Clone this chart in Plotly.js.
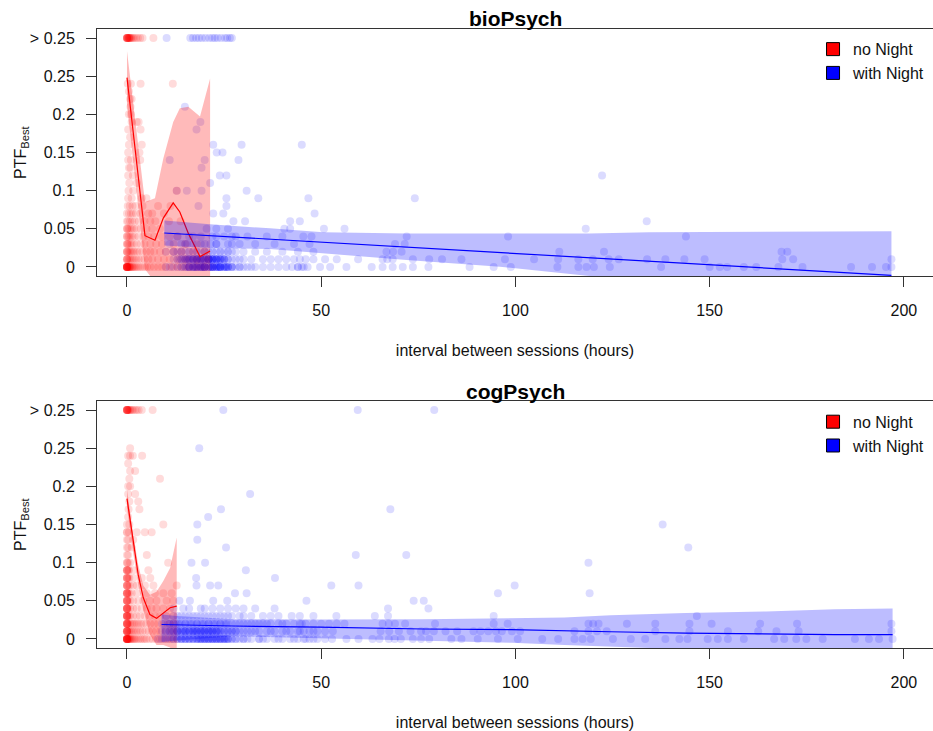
<!DOCTYPE html>
<html><head><meta charset="utf-8">
<script src="https://cdn.plot.ly/plotly-3.0.1.min.js"></script>
<style>html,body{margin:0;padding:0;background:#fff;} #chart{width:933px;height:731px;}</style>
</head><body><div id="chart"></div>
<script>
// ---------------- DATA ----------------
const xTickVals = [0, 50, 100, 150, 200];
const yTickVals = [0, 0.05, 0.1, 0.15, 0.2, 0.25, 0.3];
const yTickText = ['0', '0.05', '0.1', '0.15', '0.2', '0.25', '> 0.25'];
const panelTitles = ['bioPsych', 'cogPsych'];
const seriesNames = ['no Night', 'with Night'];
const xTitle = 'interval between sessions (hours)';
const yTitle = 'PTF<sub>Best</sub>';

// bioPsych, no Night: PTF levels and the interval values (hours) observed at each level
const bioNoNightLevels = [0.30, 0.24, 0.23, 0.22, 0.21, 0.20, 0.19, 0.18, 0.17, 0.16, 0.15, 0.14, 0.13, 0.12, 0.11, 0.10, 0.09, 0.08, 0.07, 0.06, 0.05, 0.04, 0.03, 0.02, 0.01, 0.00];
const bioNoNightHours = [
  [0, 0, 0, 0, 0, 0.1, 0.2, 0.3, 0.4, 0.5, 0.6, 0.7, 0.8, 1.0, 1.2, 1.5, 1.8, 2.3, 2.8, 3.4, 4.0, 6.8],
  [0.2, 1.0, 3.5, 11.8],
  [0.5],
  [0.8, 1.2],
  [0.9],
  [0.5, 1.0],
  [1.2, 2.5, 3.0],
  [0.3, 3.5],
  [0.8],
  [0.5, 3.8],
  [0.3, 3.2],
  [0.3, 1.0, 3.4],
  [0.5, 0.9],
  [0.3, 1.5],
  [0.6, 2.5],
  [0.4, 1.6, 12.8],
  [0.3, 1.2, 3.8, 5.0],
  [0.2, 0.7, 1.4, 2.2, 4.0, 8.0, 11.2],
  [0, 0.5, 1, 1.5, 2.3, 3.5, 5.5, 6.5, 9.5],
  [0, 0.3, 0.8, 1.3, 2, 3, 4.5, 6, 7.3, 10.8, 13.8],
  [0, 0, 0.2, 0.5, 0.9, 1.3, 1.8, 2.5, 3.5, 5, 6.5, 8.5],
  [0, 0, 0.3, 0.6, 1, 1.4, 2, 3, 4.2, 5.5, 7, 9, 11, 13],
  [0, 0, 0.2, 0.4, 0.8, 1.2, 1.7, 2.5, 3.5, 4.5, 6, 7.5, 9, 12, 15, 18],
  [0, 0, 0, 0.3, 0.6, 0.9, 1.2, 1.6, 2, 2.6, 3.2, 4, 5, 6, 7, 8.5, 10, 12, 14, 17, 20],
  [0, 0, 0, 0.2, 0.5, 0.8, 1.1, 1.5, 1.9, 2.4, 3, 3.7, 4.5, 5.5, 6.5, 8, 9.5, 11, 13, 15, 18, 21],
  [0, 0, 0, 0, 0, 0, 0, 0, 0, 0, 0.1, 0.2, 0.3, 0.4, 0.5, 0.6, 0.7, 0.8, 1.0, 1.2, 1.4, 1.6, 1.9, 2.2, 2.6, 3.0, 3.5, 4.0, 4.6, 5.2, 6, 7, 8, 9, 10, 11.5, 13, 14.5, 16, 18, 20, 22]
];

// bioPsych, with Night
const bioWithNightLevels = [0.30, 0.21, 0.19, 0.18, 0.16, 0.15, 0.14, 0.13, 0.12, 0.11, 0.10, 0.09, 0.08, 0.07, 0.06, 0.05, 0.04, 0.03, 0.02, 0.01, 0.00];
const bioWithNightHours = [
  [10.2, 16.3, 17, 17.8, 18.5, 19.3, 20.2, 21.2, 22, 22.6, 23.3, 24.2, 25.2, 25.8, 26.5, 27],
  [14.9],
  [18.9],
  [17.9],
  [22.2, 29.5, 45.0],
  [23.1, 24.6],
  [11.0, 20.0, 28.7],
  [19.2],
  [23.9, 25.6, 122.3],
  [21.4],
  [12.8, 15.4, 19.2, 30.8],
  [25.6, 33.8, 46.7, 74.1],
  [18.4, 25.6],
  [22.2, 24.8, 48.3],
  [27.4, 30.4, 42, 44.5, 133.8],
  [20.5, 23, 26, 40.5, 42, 50.7, 56, 118.1],
  [13, 16, 19, 22, 25, 28, 31, 36, 40, 45.4, 47.5, 72, 98.1, 143.9, 17, 23, 27],
  [11, 14, 17, 20, 23, 26, 29, 33, 38, 43, 47, 69, 71.5, 15.5, 21.5, 15, 19, 23, 27],
  [10, 12, 14, 16, 18, 20, 22, 24, 26, 28, 30, 33, 36, 40, 44, 48, 66.8, 68.5, 70.7, 111.3, 122.8, 168.5, 170, 13, 15, 17, 19, 21, 23, 25, 27,
   12, 14, 16, 18, 20, 22, 24, 26],
  [12, 13.5, 15, 16, 17, 18, 19, 20, 21, 22, 23, 24, 25, 26, 14, 16.5, 18.5, 20.5, 22.5, 24.5, 17, 19, 21, 23, 28, 30, 32, 35, 37, 39, 41, 43, 44.5, 46, 48, 51, 54, 59.5, 65.8, 67, 68.4, 73.6, 77.8, 81.1, 86.1, 97.3, 104.8, 111, 116.2, 119.9, 124, 126.6, 133.9, 138.6, 143.5, 148.7, 168.7, 171.5, 196.8,
   13, 14.5, 15.5, 16, 17, 18, 18, 19, 19.5, 20, 21, 21, 22, 22, 23, 24, 25, 26, 27, 29,
   14, 15, 16, 17, 18, 19, 20, 21, 22, 23, 24, 25, 15.5, 17.5, 19.5, 21.5, 23.5],
  [10, 11, 12, 13, 14, 15, 15.5, 16, 17, 18, 19, 19.5, 20, 21, 22, 23, 23.5, 24, 25, 26, 27, 16, 17.5, 18.5, 20, 21.5, 22.5, 24, 25.5, 29, 31, 33, 35, 37, 39, 41, 42.5, 44, 45, 46.5, 49.7, 52.3, 56.5, 63, 65.8, 68.4, 71, 73.6, 77.6, 88.2, 94.4, 98.8, 110.8, 116.2, 118.3, 120.2, 124.3, 137.5, 150, 152.6, 154.5, 158.8, 162, 167.7, 173.9, 186.4, 191.8, 195.4, 196.8,
   14, 15, 16, 17, 17, 18, 19, 19, 20, 20, 21, 22, 22, 23, 24, 24, 25, 26, 27, 28, 30, 32, 44, 45.5,
   16, 17, 18, 19, 20, 21, 22, 23, 24, 25, 26, 17.5, 19.5, 21.5, 23.5, 25.5, 27, 29]
];

// cogPsych, no Night
const cogNoNightLevels = [0.30, 0.25, 0.24, 0.23, 0.22, 0.21, 0.20, 0.19, 0.18, 0.17, 0.16, 0.15, 0.14, 0.13, 0.12, 0.11, 0.10, 0.09, 0.08, 0.07, 0.06, 0.05, 0.04, 0.03, 0.02, 0.01, 0.00];
const cogNoNightHours = [
  [0, 0, 0, 0, 0, 0, 0.1, 0.2, 0.3, 0.5, 0.7, 0.9, 1.2, 1.5, 2, 2.5, 3, 3.8, 6.6],
  [0.8],
  [0.3, 0.8, 1.5, 3.9],
  [0.3],
  [0.8, 2.1],
  [0.6, 8.5],
  [0.3, 0.8],
  [0.3, 2.1],
  [0.6, 2.9],
  [0.4, 3.2],
  [0.3],
  [0, 0.6, 9.35],
  [0, 0, 0.5, 2.5, 4.6, 6.35],
  [0, 0.3, 1.6],
  [0, 0.3, 1.2],
  [0, 0.3, 5.1],
  [0, 0, 0.3, 0.8, 10.6],
  [0, 0, 0, 0, 0.3, 0.5, 1.6, 5.5],
  [0, 0, 0, 0, 0.3, 0.6, 1.6, 3.8, 6],
  [0, 0, 0, 0, 0.3, 0.7, 1.6, 2.5, 4.6, 6.8, 12.8],
  [0, 0, 0, 0, 0, 0.3, 0.6, 1.2, 2.5, 5.1, 7.2, 9.35, 11.5],
  [0, 0, 0, 0, 0, 0.3, 0.8, 1.6, 2.9, 4.2, 5.9, 7.6, 10.2, 11.9],
  [0, 0, 0, 0, 0, 0, 0.3, 0.8, 1.6, 2.5, 3.8, 5.1, 6.3, 7.6, 9.35, 11.1],
  [0, 0, 0, 0, 0, 0, 0.2, 0.5, 0.8, 1.6, 2.5, 3.4, 4.6, 5.9, 7.2, 8.5, 10.2, 11.9],
  [0, 0, 0, 0, 0, 0, 0.2, 0.4, 0.8, 1.2, 1.6, 2, 2.5, 3, 3.6, 4.2, 5, 6, 7, 8, 9.5, 11, 12.5],
  [0, 0, 0, 0, 0, 0, 0.2, 0.4, 0.7, 1, 1.4, 1.8, 2.3, 2.8, 3.4, 4, 4.8, 5.6, 6.5, 7.5, 8.5, 10, 11.5, 12.8],
  [0, 0, 0, 0, 0, 0, 0, 0, 0, 0, 0.1, 0.2, 0.3, 0.4, 0.5, 0.6, 0.8, 1.0, 1.2, 1.5, 1.8, 2.1, 2.5, 3, 3.5, 4, 4.5, 5, 5.8, 6.6, 7.5, 8.5, 9.5, 10.5, 11.5, 12.8]
];

// cogPsych, with Night
const cogWithNightLevels = [0.30, 0.25, 0.19, 0.17, 0.16, 0.15, 0.13, 0.12, 0.11, 0.10, 0.09, 0.08, 0.07, 0.06, 0.05, 0.04, 0.03, 0.02, 0.01, 0.00];
const cogWithNightHours = [
  [24.8, 59.4, 79.1],
  [18.6],
  [31.7],
  [24.2, 67.8],
  [20.9],
  [18.1, 137.9],
  [18.1],
  [25.5, 144.5],
  [58.9, 71.9],
  [16.6, 20.1, 118.8],
  [30.6],
  [17.8, 38.1],
  [17.9, 21.4, 23.5, 52.6, 59.6, 99.8],
  [27.8, 30.8, 95.5, 119.1],
  [13.5, 16.2, 22.2, 25.8, 46.2, 73.8, 76.4],
  [12, 14.5, 16, 19, 20, 22, 24, 26, 28, 30, 33, 38, 67.2, 77.6],
  [10, 12, 13, 15, 17, 18, 20, 21, 23, 25, 26, 29, 30, 32, 35, 37, 39, 42.4, 44.5, 48, 53.9, 63.8, 67.2, 94.4, 146.7,
   14, 16, 19, 22, 24, 27],
  [9, 10.5, 12, 13.5, 15, 16.5, 18, 19.5, 21, 22.5, 24, 25.5, 27, 29, 31, 33, 35, 37, 39, 41, 43, 44.5, 46, 48, 50, 52, 54, 56, 65.8, 67.4, 69, 71.6, 79.3, 94.4, 98, 118.8, 120, 121.4, 128.7, 136, 144.8, 150.5, 163, 172.5, 196.8,
   12, 14, 16, 18, 20, 22, 24, 26, 28, 32, 36, 40, 45,
   11, 13, 15, 17, 19, 21, 23, 25, 30, 34],
  [9, 10, 11, 12, 13, 14, 15, 16, 17, 18, 19, 20, 21, 22, 23, 24, 25, 26, 27, 28, 14.5, 17.5, 19.5, 21.5, 23.5, 30, 32, 34, 36, 38, 40, 42, 44, 45.5, 47, 49, 51, 53, 65.3, 67.5, 70, 73, 75.7, 77, 79, 82, 85, 89.2, 91, 93, 95, 96.5, 99.1, 101.2, 115.2, 118.8, 121, 123.5, 136, 144.8, 154.7, 162.5, 167.2, 172.9, 196.8,
   11, 13, 15, 16, 17, 18, 19, 20, 21, 22, 23, 25, 27, 29, 33, 37, 41, 44.5, 48,
   12, 14, 16, 18, 20, 22, 24, 26, 13, 15, 17, 19, 21, 23, 28, 31],
  [8, 9, 10, 11, 12, 13, 14, 15, 16, 17, 18, 19, 20, 21, 22, 23, 24, 25, 26, 27, 28, 29, 30, 18.5, 19.5, 20.5, 21.5, 22.5, 23.5, 24.5, 25.5, 32, 34, 36, 38, 40, 42, 44, 45.5, 47, 49, 51, 52.8, 56.5, 59.6, 63.2, 65, 67.4, 68.9, 70.5, 73.6, 75.7, 77.8, 83.5, 86.1, 90.3, 95.5, 100.6, 106.9, 111, 115.2, 117.3, 119.4, 125.1, 129.7, 133.4, 138.6, 142.2, 144.3, 149.5, 152.1, 154.7, 158.8, 166.6, 169.2, 172.3, 174.9, 179.1, 187.4, 191, 193.6, 197.1,
   12, 14, 15, 16, 17, 18, 19, 20, 21, 22, 23, 24, 25, 26, 27, 28, 31, 35, 39, 43, 46, 48,
   13, 15, 17, 19, 21, 23, 25, 14, 16, 18, 20, 22, 24, 26, 30, 34]
];

// fitted curves with confidence bands
const bioNoNightFitHours = [0, 4.63, 7.2, 9.35, 11.9, 13.6, 15.8, 18.8, 21.4];
const bioNoNightFit = [0.248, 0.041, 0.035, 0.064, 0.084, 0.072, 0.044, 0.0135, 0.021];
const bioNoNightUpper = [0.283, 0.085, 0.09, 0.142, 0.19, 0.208, 0.21, 0.197, 0.247];
const bioNoNightLower = [0.213, -0.003, -0.02, -0.014, -0.022, -0.064, -0.12, -0.17, -0.2];

const bioWithNightFitHours = [9.6, 21.4, 36.8, 50.5, 72, 96, 111.5, 119, 134.4, 176, 196.8];
const bioWithNightFit = [0.0445, 0.041, 0.0365, 0.0324, 0.026, 0.0189, 0.0143, 0.0121, 0.0076, -0.0047, -0.011];
const bioWithNightUpper = [0.061, 0.056, 0.0506, 0.0454, 0.044, 0.044, 0.044, 0.044, 0.0454, 0.0467, 0.0467];
const bioWithNightLower = [0.028, 0.025, 0.0236, 0.018, 0.009, 0.0004, -0.008, -0.012, -0.02, -0.045, -0.06];

const cogNoNightFitHours = [0, 1.63, 2.9, 4.2, 5.9, 7.6, 9.35, 11.1, 12.8];
const cogNoNightFit = [0.184, 0.124, 0.084, 0.054, 0.032, 0.027, 0.034, 0.041, 0.043];
const cogNoNightUpper = [0.196, 0.136, 0.097, 0.07, 0.058, 0.062, 0.076, 0.093, 0.133];
const cogNoNightLower = [0.172, 0.112, 0.071, 0.038, 0.006, -0.008, -0.008, -0.011, -0.047];

const cogWithNightFitHours = [8.9, 12.8, 27.4, 49.7, 76.2, 99.1, 112.6, 124.5, 143.8, 164.5, 182.2, 197.1];
const cogWithNightFit = [0.019, 0.0185, 0.017, 0.0155, 0.0131, 0.0122, 0.0105, 0.0095, 0.0078, 0.0065, 0.0057, 0.0057];
const cogWithNightUpper = [0.032, 0.030, 0.026, 0.0254, 0.026, 0.0275, 0.028, 0.031, 0.034, 0.036, 0.039, 0.040];
const cogWithNightLower = [-0.004, -0.002, 0.0035, 0.001, -0.002, -0.005, -0.008, -0.011, -0.014, -0.017, -0.02, -0.022];

// ---------------- BUILD ----------------
const FONT = 'Liberation Sans, Arial, Helvetica, sans-serif';
const RED = '#ff0000', BLUE = '#0000ff';
const PT_RED = 'rgba(255,0,0,0.14)', PT_BLUE = 'rgba(0,0,255,0.14)';
const BAND_RED = 'rgba(255,0,0,0.27)', BAND_BLUE = 'rgba(0,0,255,0.26)';

function flatten(levels, hours) {
  const x = [], y = [];
  levels.forEach((lv, i) => hours[i].forEach(h => { x.push(h); y.push(lv); }));
  return {x, y};
}
function pointsTrace(levels, hours, color, xa, ya) {
  const d = flatten(levels, hours);
  return {type: 'scatter', mode: 'markers', x: d.x, y: d.y, xaxis: xa, yaxis: ya,
    marker: {size: 8, color: color, line: {width: 0}}, showlegend: false, hoverinfo: 'skip'};
}
function bandTrace(hx, up, lo, color, xa, ya) {
  return {type: 'scatter', mode: 'lines', x: hx.concat(hx.slice().reverse()),
    y: up.concat(lo.slice().reverse()), fill: 'toself', fillcolor: color,
    line: {width: 0, color: 'rgba(0,0,0,0)'}, xaxis: xa, yaxis: ya, showlegend: false, hoverinfo: 'skip'};
}
function lineTrace(hx, fy, color, xa, ya) {
  return {type: 'scatter', mode: 'lines', x: hx, y: fy, line: {color: color, width: 1.2},
    xaxis: xa, yaxis: ya, showlegend: false, hoverinfo: 'skip'};
}
function legendTrace(name, color, xa, ya, lg) {
  return {type: 'scatter', mode: 'markers', x: [null], y: [null], name: name, xaxis: xa, yaxis: ya,
    legend: lg, marker: {symbol: 'square', size: 13, color: color, line: {color: '#000', width: 1}}, hoverinfo: 'skip'};
}

const data = [
  pointsTrace(bioNoNightLevels, bioNoNightHours, PT_RED, 'x', 'y'),
  pointsTrace(bioWithNightLevels, bioWithNightHours, PT_BLUE, 'x', 'y'),
  bandTrace(bioNoNightFitHours, bioNoNightUpper, bioNoNightLower, BAND_RED, 'x', 'y'),
  lineTrace(bioNoNightFitHours, bioNoNightFit, RED, 'x', 'y'),
  bandTrace(bioWithNightFitHours, bioWithNightUpper, bioWithNightLower, BAND_BLUE, 'x', 'y'),
  lineTrace(bioWithNightFitHours, bioWithNightFit, BLUE, 'x', 'y'),
  legendTrace(seriesNames[0], RED, 'x', 'y', 'legend'),
  legendTrace(seriesNames[1], BLUE, 'x', 'y', 'legend'),

  pointsTrace(cogNoNightLevels, cogNoNightHours, PT_RED, 'x2', 'y2'),
  pointsTrace(cogWithNightLevels, cogWithNightHours, PT_BLUE, 'x2', 'y2'),
  bandTrace(cogNoNightFitHours, cogNoNightUpper, cogNoNightLower, BAND_RED, 'x2', 'y2'),
  lineTrace(cogNoNightFitHours, cogNoNightFit, RED, 'x2', 'y2'),
  bandTrace(cogWithNightFitHours, cogWithNightUpper, cogWithNightLower, BAND_BLUE, 'x2', 'y2'),
  lineTrace(cogWithNightFitHours, cogWithNightFit, BLUE, 'x2', 'y2'),
  legendTrace(seriesNames[0], RED, 'x2', 'y2', 'legend2'),
  legendTrace(seriesNames[1], BLUE, 'x2', 'y2', 'legend2')
];

const tickFont = {family: FONT, size: 16, color: '#111'};
const annFont = {family: FONT, size: 16, color: '#111'};
function xAxis(anchor) {
  return {domain: [0, 1], anchor: anchor, range: [-7.72, 207.5], tickvals: xTickVals,
    ticktext: xTickVals.map(String), ticks: 'outside', ticklen: 10, tickwidth: 1, tickcolor: '#333',
    showline: true, linecolor: '#333', linewidth: 1, mirror: true, showgrid: false, zeroline: false,
    tickfont: tickFont, ticklabelstandoff: 10, fixedrange: true, automargin: false,
    title: {text: xTitle, font: annFont, standoff: 26}};
}
function yAxis(anchor, domain) {
  return {domain: domain, anchor: anchor, range: [-0.0118, 0.3118], tickvals: yTickVals,
    ticktext: yTickText, ticks: 'outside', ticklen: 10, tickwidth: 1, tickcolor: '#333',
    showline: true, linecolor: '#333', linewidth: 1, mirror: false, showgrid: false, zeroline: false,
    tickfont: tickFont, ticklabelstandoff: 8, fixedrange: true, automargin: false};
}
const legendBase = {xanchor: 'left', yanchor: 'top', bgcolor: 'rgba(0,0,0,0)', borderwidth: 0,
  font: {family: FONT, size: 16, color: '#111'}, itemclick: false, itemdoubleclick: false};

const titleFont = {family: FONT, size: 21, color: '#000', weight: 'bold'};
const annotations = [
  {text: '<b>' + panelTitles[0] + '</b>', xref: 'paper', yref: 'paper', x: 0.5, y: 1.0173, xanchor: 'center', yanchor: 'middle', showarrow: false, font: titleFont},
  {text: '<b>' + panelTitles[1] + '</b>', xref: 'paper', yref: 'paper', x: 0.5, y: 0.4147, xanchor: 'center', yanchor: 'middle', showarrow: false, font: titleFont},
  {text: yTitle, xref: 'paper', yref: 'paper', x: -0.0903, y: 0.8005, xanchor: 'center', yanchor: 'middle', textangle: -90, showarrow: false, font: annFont},
  {text: yTitle, xref: 'paper', yref: 'paper', x: -0.0903, y: 0.1995, xanchor: 'center', yanchor: 'middle', textangle: -90, showarrow: false, font: annFont}
];

const layout = {
  width: 933, height: 731,
  margin: {l: 97, r: 0, t: 29, b: 83, pad: 0},
  paper_bgcolor: '#fff', plot_bgcolor: '#fff',
  showlegend: true,
  xaxis: xAxis('y'), yaxis: yAxis('x', [0.601, 1]),
  xaxis2: xAxis('y2'), yaxis2: yAxis('x2', [0, 0.399]),
  legend: Object.assign({x: 0.8565, y: 0.9948}, legendBase),
  legend2: Object.assign({x: 0.8565, y: 0.3929}, legendBase),
  annotations: annotations,
  font: {family: FONT}
};

Plotly.newPlot('chart', data, layout, {staticPlot: true, displayModeBar: false});
</script></body></html>
